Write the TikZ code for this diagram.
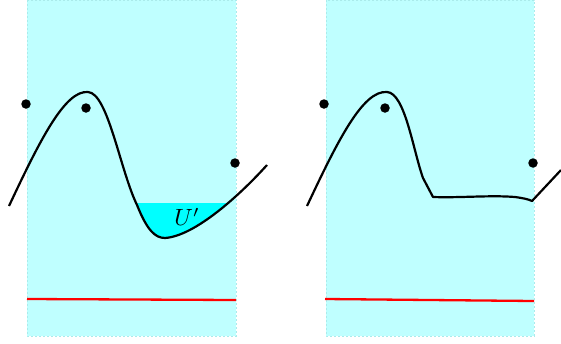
\documentclass[tikz,border=0pt]{standalone}
\usepackage{graphicx}
\definecolor{panelfill}{RGB}{191,255,255}
\definecolor{paneledge}{RGB}{170,235,235}
\definecolor{ufill}{RGB}{0,255,255}
\definecolor{redc}{RGB}{255,0,0}
\begin{document}
\begin{tikzpicture}[x=1pt,y=-1pt,
  panel/.style={fill=panelfill,draw=paneledge,line width=0.8pt,dash pattern=on 2pt off 2pt},
  curve/.style={line width=2.2pt,line join=round},
  redline/.style={draw=redc,line width=2.3pt},
  dot/.style={circle,fill=black,inner sep=0pt,minimum size=9.5pt}]
\useasboundingbox (0,0) rectangle (561,343);
% panels
\path[panel] (27,0) rectangle (236,336);
\path[panel] (326,0) rectangle (534,336);
% left fill U'
\begin{scope}
  \clip (100,203) rectangle (236,343);
  \fill[ufill] (88,92) .. controls (108,93) and (120,170) .. (137,205)
     .. controls (147,230) and (155,238) .. (165,238)
     .. controls (195,236) and (240,195) .. (267,165) -- (267,0) -- (88,0) -- cycle;
\end{scope}
\node[inner sep=0pt] (ulabel) at (187,217) {\scalebox{2.35}{$U'$}};
% left curve
\draw[curve] (9,206) .. controls (40,140) and (65,90) .. (88,92)
   .. controls (108,93) and (120,170) .. (137,205)
   .. controls (147,230) and (155,238) .. (165,238)
   .. controls (195,236) and (240,195) .. (267,165);
% right curve
\draw[curve] (307,206) .. controls (338,140) and (363,90) .. (387,92)
   .. controls (405,93) and (413,150) .. (423,178)
   -- (433,197) .. controls (460,198) and (490,195) .. (515,197)
   .. controls (522,198) and (528,199) .. (532,201) -- (561,170);
% dots
\node[dot] (a1) at (26,104) {};
\node[dot] (b1) at (86,108) {};
\node[dot] (c1) at (235,163) {};
\node[dot] (a2) at (324,104) {};
\node[dot] (b2) at (385,108) {};
\node[dot] (c2) at (533,163) {};
% red lines
\coordinate (r1a) at (27,299); \coordinate (r1b) at (236,300);
\coordinate (r2a) at (325,299); \coordinate (r2b) at (534,301);
\draw[redline] (r1a) -- (r1b);
\draw[redline] (r2a) -- (r2b);
\end{tikzpicture}
\end{document}
